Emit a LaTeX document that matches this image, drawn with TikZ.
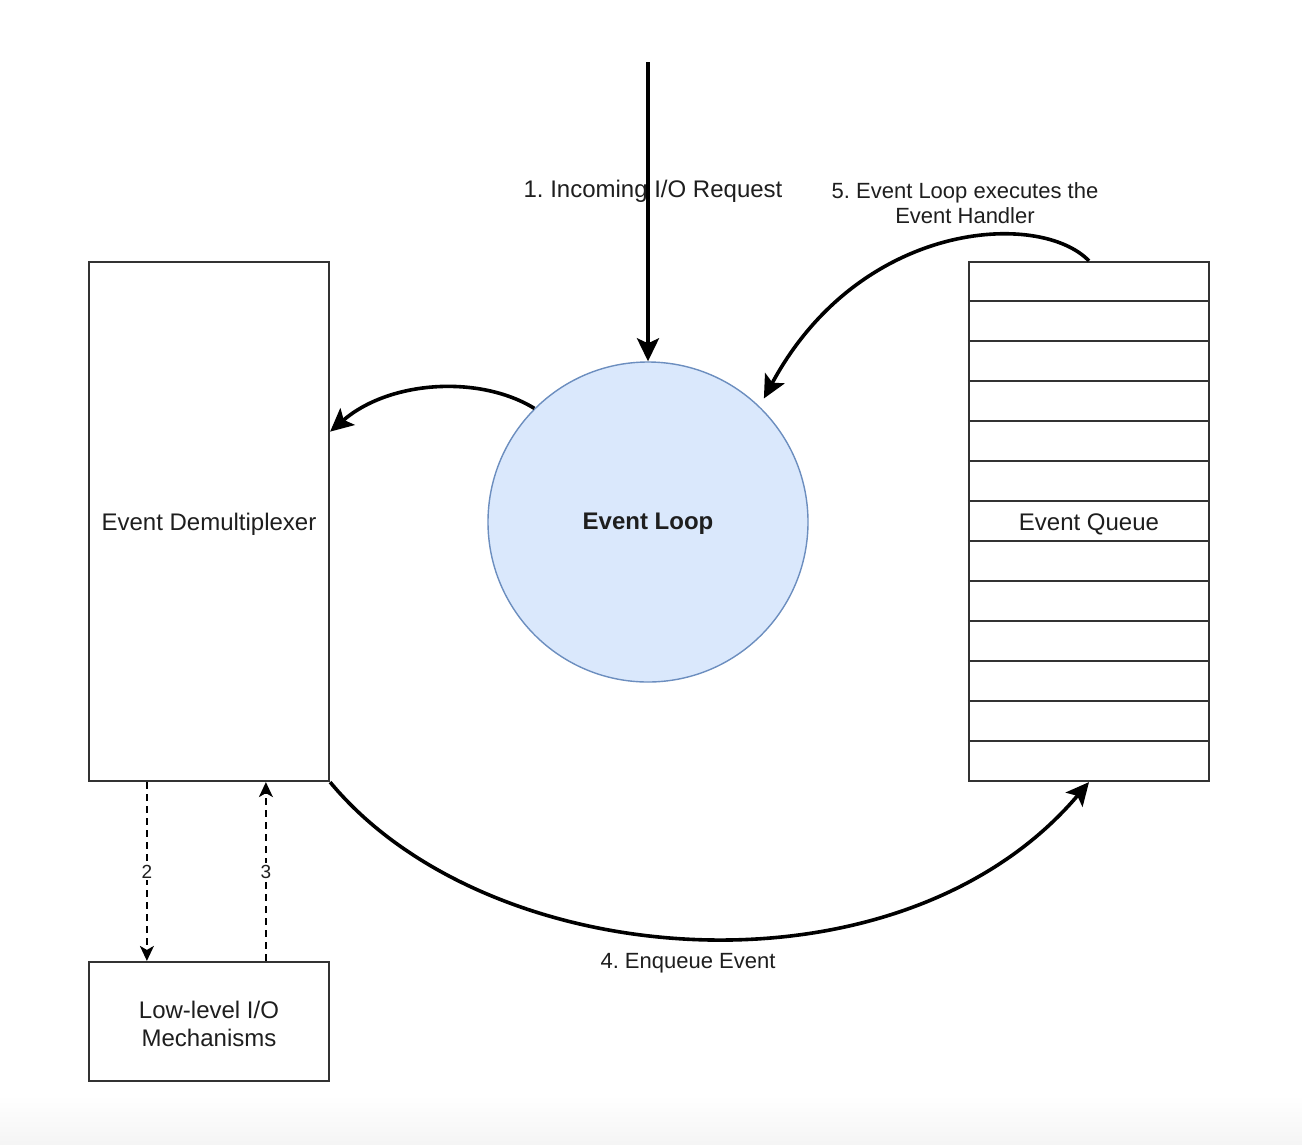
\documentclass[tikz,border=0pt]{standalone}
\usepackage{fontspec}
\setmainfont{Liberation Sans}
\usetikzlibrary{arrows.meta,calc}
\definecolor{loopfill}{HTML}{DAE8FC}
\definecolor{loopdraw}{HTML}{6C8EBF}
\definecolor{boxline}{HTML}{333333}
\definecolor{txt}{HTML}{1E1E1E}
\frenchspacing
\begin{document}
\begin{tikzpicture}[x=1pt,y=-1pt,
  box/.style={draw=boxline, line width=2.2pt, fill=white, inner sep=0pt, text=txt,
    font=\fontsize{24}{28}\selectfont, align=center},
  loopnode/.style={circle, draw=loopdraw, fill=loopfill, line width=1.4pt, minimum size=320pt,
    inner sep=0pt, text=txt, font=\bfseries\fontsize{24}{28}\selectfont},
  rowline/.style={draw=boxline, line width=2.2pt},
  arr/.style={-{Stealth[length=23pt,width=22pt,inset=5pt]}, line width=3.6pt, black},
  dsh/.style={-{Stealth[length=15pt,width=14pt,inset=4pt]}, line width=1.8pt, black, dash pattern=on 7pt off 5pt},
  lbl/.style={text=txt, font=\fontsize{22}{25}\selectfont, align=center, inner sep=1pt},
  numlbl/.style={text=txt, font=\fontsize{19}{22}\selectfont, fill=white, inner sep=2pt}
]
\useasboundingbox (0,0) rectangle (1302,1144);
\fill[white] (0,0) rectangle (1302,1144);
\shade[top color=white, bottom color=black!4] (0,1095) rectangle (1302,1144);

% nodes
\node[box, minimum width=240pt, minimum height=519pt] (demux) at (209,521.5) {};
\node[box, draw=none, fill=none] (dlabel) at (209,524) {Event Demultiplexer};
\node[box, minimum width=240pt, minimum height=119pt] (lowio) at (209,1021.5) {};
\node[box, draw=none, fill=none] (llabel) at (209,1024) {Low-level I/O\\Mechanisms};
\node[loopnode] (loop) at (648,522) {};
\node[box, draw=none, fill=none, font=\bfseries\fontsize{24}{28}\selectfont] (looplabel) at (648,524) {Event Loop};
\node[box, minimum width=240pt, minimum height=519pt] (queue) at (1089,521.5) {};
\foreach \i in {1,...,12}
  \draw[rowline] ([yshift=-40*\i pt]queue.north west) -- ([yshift=-40*\i pt]queue.north east);
\node[box, draw=none, fill=none] (qlabel) at (1089,524) {Event Queue};

% 1. incoming
\coordinate (in) at (648,62);
\draw[arr] (in) -- (loop.north);
\node[lbl, font=\fontsize{24}{28}\selectfont] (l1) at (653,191) {1. Incoming I/O Request};

% loop -> demux
\coordinate (dmin) at ($(demux.north east)!0.3276!(demux.south east)$);
\draw[arr] (loop.135) .. controls (480,375) and (390,380) .. (dmin);

% 5. queue -> loop
\draw[arr, shorten >=9pt] (queue.north) .. controls (1040,210) and (860,220) .. (loop.46);
\node[lbl] (l5) at (965,203) {5. Event Loop executes the\\Event Handler};

% 4. demux -> queue
\draw[arr] (demux.south east) .. controls (490,975) and (900,1005) .. (queue.south);
\node[lbl] (l4) at (688,963) {4. Enqueue Event};

% 2 and 3 dashed
\draw[dsh] ([xshift=59pt]demux.south west) -- node[numlbl] {2} ([xshift=59pt]lowio.north west);
\draw[dsh] ([xshift=178pt]lowio.north west) -- node[numlbl] {3} ([xshift=178pt]demux.south west);
\end{tikzpicture}
\end{document}
